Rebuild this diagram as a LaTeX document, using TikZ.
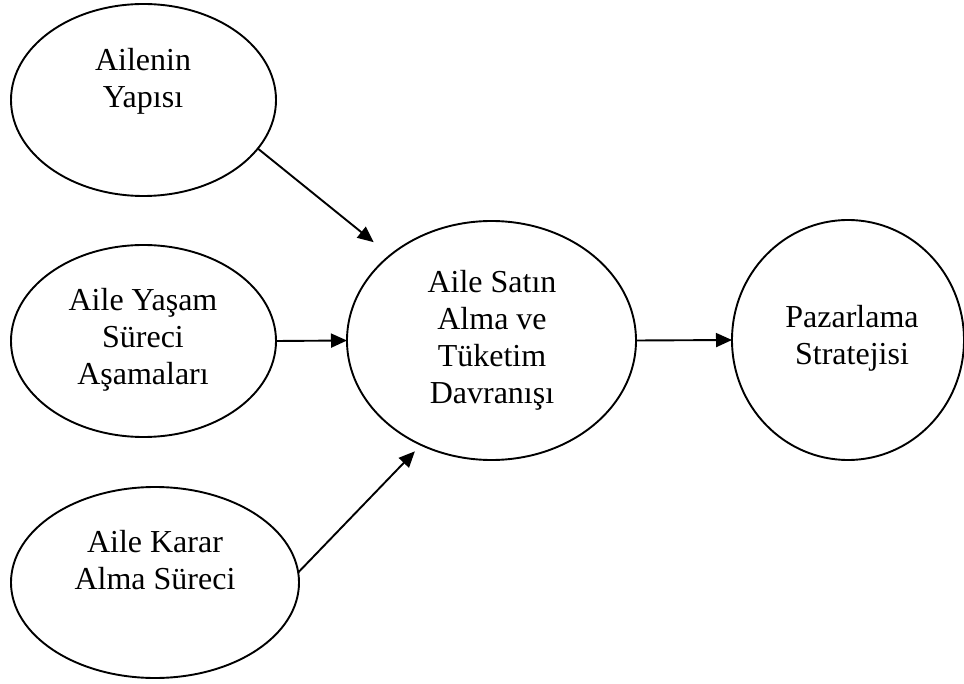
\documentclass[tikz,border=0pt]{standalone}
\usepackage{fontspec}
\setmainfont{Liberation Serif}
\usepackage{tikz}
\usetikzlibrary{arrows.meta,shapes.geometric}

\begin{document}
\begin{tikzpicture}[x=1pt, y=-1pt]
    % Styles
    \tikzstyle{oval} = [ellipse, draw, line width=1.9pt, inner sep=0pt, outer sep=0pt]
    \tikzstyle{label} = [anchor=north, align=center, inner sep=0pt, font=\fontsize{32}{37}\selectfont]
    \tikzstyle{arrow} = [line width=1.9pt, -{Triangle[length=16pt, width=14pt]}]

    \useasboundingbox (0,0) rectangle (964,684);

    % Nodes - left side
    \node [oval, minimum width=265pt, minimum height=192pt] (yapi) at (143.5,100) {};
    \node [oval, minimum width=265pt, minimum height=192pt] (yasam) at (143.5,341) {};
    \node [oval, minimum width=288pt, minimum height=191pt] (karar) at (155,582.5) {};

    % Nodes - middle and right
    \node [oval, minimum width=289pt, minimum height=239pt] (davranis) at (491.5,340.5) {};
    \node [oval, minimum width=232pt, minimum height=240pt] (strateji) at (848,340) {};

    % Texts
    \node [label] (yapitext) at (143,48) {Ailenin\\Yapısı};
    \node [label] (yasamtext) at (143,288) {Aile Yaşam\\Süreci\\Aşamaları};
    \node [label] (karartext) at (155,530) {Aile Karar\\Alma Süreci};
    \node [label] (davranistext) at (492,270) {Aile Satın\\Alma ve\\Tüketim\\Davranışı};
    \node [label] (stratejitext) at (852,305) {Pazarlama\\Stratejisi};

    % Arrows
    \draw[arrow, shorten >=21pt] (yapi.-23) -- (davranis.140.8);
    \draw[arrow] (yasam.east) -- (davranis.west);
    \draw[arrow, shorten >=9pt] (karar.4) -- (davranis.236.8);
    \draw[arrow] (davranis.east) -- (strateji.west);

\end{tikzpicture}
\end{document}
